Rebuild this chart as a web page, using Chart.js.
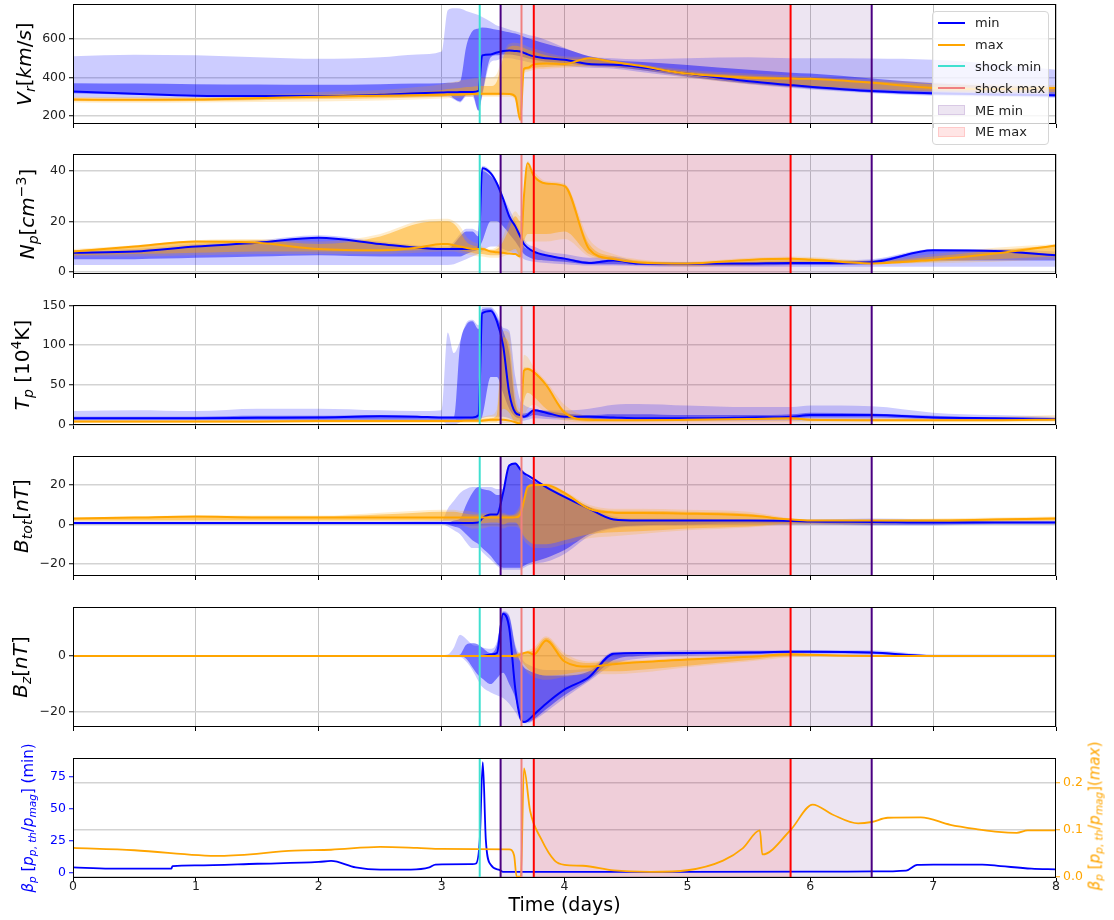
<!DOCTYPE html>
<html>
<head>
<meta charset="utf-8">
<title>Ensemble min / max run</title>
<script src="https://cdn.jsdelivr.net/npm/chart.js@4.4.0/dist/chart.umd.min.js"></script>
<style>
  html, body { margin: 0; padding: 0; background: #fff; }
  #fig { position: relative; width: 1114px; height: 920px; overflow: hidden; font-family: 'DejaVu Sans', sans-serif; }
  #fig canvas { position: absolute; left: 0; }
  .ylab { position: absolute; white-space: nowrap; transform: translate(-50%, -50%) rotate(-90deg); font-size: 20px; line-height: 1; color: #000; z-index: 2; }
  .ylab sub { font-size: 70%; vertical-align: -0.3em; line-height: 0; }
  .ylab sup { font-size: 70%; vertical-align: 0.55em; line-height: 0; }
  .ylab.small { font-size: 15px; }
  #legend { position: absolute; left: 932px; top: 11px; width: 117px; height: 134px; box-sizing: border-box;
            border: 1px solid #d6d6d6; border-radius: 4px; background: rgba(255,255,255,0.8);
            padding-left: 5px; font-size: 13px; color: #222; z-index: 3; }
  #legend .row { height: 21.8px; display: flex; align-items: center; }
  #legend .hl { display: inline-block; width: 27px; height: 2px; margin-right: 10px; }
  #legend .hp { display: inline-block; width: 27px; height: 10px; margin-right: 10px; box-sizing: border-box; border: 1px solid; }
</style>
</head>
<body>
<div id="fig">
  <div class="ylab" style="left:24px;top:64px"><i>V</i><sub><i>r</i></sub>[<i>km</i>/<i>s</i>]</div>
  <div class="ylab" style="left:27px;top:214px"><i>N</i><sub><i>p</i></sub>[<i>cm</i><sup>&minus;3</sup>]</div>
  <div class="ylab" style="left:22px;top:365px"><i>T</i><sub><i>p</i></sub> [10<sup>4</sup>K]</div>
  <div class="ylab" style="left:21px;top:516px"><i>B</i><sub><i>tot</i></sub>[<i>nT</i>]</div>
  <div class="ylab" style="left:20px;top:667px"><i>B</i><sub><i>z</i></sub>[<i>nT</i>]</div>
  <div class="ylab small" style="left:28px;top:818px;color:#0000ff"><i>β</i><sub><i>p</i></sub> [<i>p</i><sub><i>p</i>, <i>th</i></sub>/<i>p</i><sub><i>mag</i></sub>] (min)</div>
  <div class="ylab small" style="left:1095px;top:816px;color:#ffa500"><i>β</i><sub><i>p</i></sub> [<i>p</i><sub><i>p</i>, <i>th</i></sub>/<i>p</i><sub><i>mag</i></sub>](<i>max</i>)</div>

  <div id="legend">
    <div class="row"><span class="hl" style="background:#0000ff"></span>min</div>
    <div class="row"><span class="hl" style="background:#ffa500"></span>max</div>
    <div class="row"><span class="hl" style="background:#40e0d0"></span>shock min</div>
    <div class="row"><span class="hl" style="background:#f08080"></span>shock max</div>
    <div class="row"><span class="hp" style="background:rgba(75,0,130,0.1);border-color:rgba(75,0,130,0.12)"></span>ME min</div>
    <div class="row"><span class="hp" style="background:rgba(255,0,0,0.1);border-color:rgba(255,0,0,0.12)"></span>ME max</div>
  </div>
</div>

<script>
// ---- time grid (days) shared by the five upper panels ----
const days = [0, 0.5, 1, 1.5, 2, 2.5, 2.8,
  3.0, 3.05, 3.1, 3.15, 3.2, 3.25, 3.3, 3.33,
  3.4, 3.45, 3.5, 3.55, 3.6, 3.64, 3.67, 3.7, 3.75, 3.85,
  4.0, 4.2, 4.4, 4.6, 5.0, 5.5, 5.85, 6.0, 6.5, 7.0, 7.5, 8.0];
const dayTicks = [0, 1, 2, 3, 4, 5, 6, 7, 8];

// shock arrival and magnetic ejecta boundaries (days)
const shockMin = 3.31;
const shockMax = 3.65;
const meMinSpan = [3.48, 6.5];
const meMaxSpan = [3.75, 5.84];

// ---- Vr [km/s] ----
const vrMin = [327,315,305,303,303,310,318, 322,323,323,324,324,325,330,515, 520,530,538,540,538,535,528,520,510,500, 492,470,466,455,420,380,360,352,330,318,312,308];
const vrMax = [285,284,285,292,300,305,308, 310,311,311,312,313,314,315,315, 315,315,315,314,300,180,445,450,468,472, 470,500,480,462,420,398,394,393,372,345,340,345];
const vrMinOutHi = [510,518,515,505,497,505,520, 535,750,760,758,745,735,725,715, 690,670,660,650,640,632,628,622,615,595, 555,510,500,495,500,505,500,500,498,492,470,440];
const vrMinOutLo = [295,293,292,292,295,298,300, 300,300,285,270,300,300,225,300, 480,490,500,500,495,490,485,480,475,470, 460,450,445,430,400,365,345,338,318,305,300,295];
const vrMinInHi = [370,368,365,363,362,365,368, 370,372,374,380,560,640,655,660, 655,648,642,635,628,620,612,605,595,575, 550,510,490,482,465,440,425,420,395,370,355,345];
const vrMinInLo = [318,310,302,300,300,305,312, 315,316,290,275,310,315,228,310, 505,515,520,520,515,510,505,500,492,482, 475,460,455,440,405,368,350,342,322,310,305,300];
const vrMaxOutHi = [300,298,300,310,325,335,350, 365,372,378,385,390,395,398,400, 400,420,520,575,580,575,570,560,550,530, 510,505,490,470,440,420,410,405,390,375,365,360];
const vrMaxOutLo = [270,268,270,272,275,280,285, 290,292,293,295,298,300,300,300, 300,300,300,300,280,170,420,430,440,445, 450,455,450,440,400,365,350,345,330,320,315,315];
const vrMaxInHi = [292,290,292,300,310,318,325, 335,340,342,345,350,352,355,355, 355,380,500,560,565,560,555,545,535,515, 500,495,480,462,430,410,400,395,380,365,355,350];
const vrMaxInLo = [278,276,278,282,288,292,296, 300,302,303,304,306,308,308,308, 308,308,310,310,295,175,435,440,450,455, 458,462,458,448,410,375,360,355,340,330,325,325];

// ---- Np [cm^-3] ----
const npMin = [7.5,8,10,11.5,13.5,11,9.5, 9,9,9,9,9,9,9,41, 39,35,29,22,18,14,11,9.5,8,6.5, 5.2,3.5,4.5,3.3,3.2,3.3,3.5,3.5,3.8,8.5,8.2,6.5];
const npMax = [8,10,12,11.5,9,8.5,9.5, 11,11,10.5,10,9.5,9,9,9, 8,7.7,7.5,7.2,7,6,30,43,38,35, 34,9,5,3.7,3.3,4.7,5.1,4.8,3.3,4.8,7.2,10.4];
const npMinOutHi = [8.5,9,11,12.5,14.5,12,10.5, 10,10,12,15,17,17,16,42, 40,36,30,25,20,16,13,11,10,8, 7,5.5,6,4,3.5,4,4.5,4.5,5,9,9,8];
const npMinOutLo = [2.7,2.7,2.7,2.7,2.7,2.7,2.7, 2.7,2.7,3,4,5,6,7,8, 10,10,9,8,7,6,5,4.5,4,3.5, 3,2.5,2.5,2.2,2,2,2,2,2,2,2,2];
const npMinInHi = [7.5,8,10,11.5,13.5,11,9.5, 9,9,11,14,16,16,14,40, 38,35,28,22,18,14,10,9,8,6.5, 5.5,4,5,3.5,3,3.5,4,4,4.5,8.5,8.5,7];
const npMinInLo = [5,5,5.5,6,6.5,6,6, 6,6,6,6,7,8,9,12, 20,20,18,15,12,9,7,6,5,4.5, 4,3,3,2.7,2.5,2.5,2.7,2.7,3,4.5,4.5,4.5];
const npMaxOutHi = [9,10.5,12.5,13,12,15,20, 21,21,20,18,14,12,11,10, 9,10,14,20,24,22,30,44,40,36, 35,13,7,5,4,5.5,6,5.8,4.5,7,9.5,11];
const npMaxOutLo = [6,6,6.5,7,7,7,7.5, 8,8,8,7.5,7,6.5,6,6, 5.5,5.5,6,7,8,5,10,12,12,12, 13,6,4,3,2,2.5,3,3,3,3.5,4,5];
const npMaxInHi = [8.5,10,12,12.5,11,14,19, 20,20,19,16,12,10.5,10,9.5, 8.5,9,12,17,22,20,28,42,38,35, 34,11,6,4.5,3.5,5,5.5,5.3,4,6,8.5,10.5];
const npMaxInLo = [6.5,7,7.5,8,8,8,8.5, 9,9,9,8.5,8,7.5,7,7, 6.5,6.5,7,8,9,6,12,15,15,15, 16,7,4.5,3.3,2.5,3,3.5,3.5,3.2,4,5,6];

// ---- Tp [10^4 K] ----
const tpMin = [8,8,8,8.5,9,10.5,10, 9,9,9,9,9,9,12,140, 143,130,100,40,15,12,10,12,18,15, 10,10,9,8,8,9,10,12,12,9,8,7];
const tpMax = [4,4,4,4,4.5,4.5,4.5, 4.5,4.5,4.5,4.5,5,5,5,5, 6,6,6,5,3,1,68,70,66,50, 15,6,5.5,5.5,6,7,8,6,5.5,5.5,5.5,6.5];
const tpMinOutHi = [17,18,17,20,20,18,17, 18,116,90,105,128,132,125,148, 148,140,122,118,60,30,25,22,20,18, 18,20,25,26,24,22,22,24,23,15,12,10];
const tpMinOutLo = [5,5,5,5,5,5,5, 5,0,0,3,5,5,5,8, 10,10,10,8,5,5,5,6,8,7, 6,6,5,5,5,5,5,5,5,5,5,5];
const tpMinInHi = [10,10,10,11,11,12,11, 10,10,10,100,125,130,120,145, 146,135,118,90,25,15,14,15,19,17, 14,12,13,13,12,12,13,15,14,11,9,8];
const tpMinInLo = [6,6,6,6,6,6,6, 6,6,6,5,5,5,5,10, 60,60,40,20,10,8,8,9,12,10, 8,7,7,7,7,7,8,9,9,7,6,6];
const tpMaxOutHi = [6,6,6,6,7,7,7, 7,7,7,7,8,8,8,10, 12,20,118,115,40,20,88,85,72,55, 25,10,8,8,9,10,10,8,8,9,10,12];
const tpMaxOutLo = [2,2,2,2,2,2,2, 2,2,2,2,2,2,2,2, 2,2,2,2,1,0,10,20,25,15, 5,3,3,3,3,3,3,3,3,3,3,3];
const tpMaxInHi = [5,5,5,5,5.5,5.5,5.5, 5.5,5.5,5.5,5.5,6,6,6,7, 8,12,110,100,30,15,72,72,68,50, 18,8,6.5,6.5,7,8,9,7,6.5,6.5,6.5,8];
const tpMaxInLo = [3,3,3,3,3.5,3.5,3.5, 3.5,3.5,3.5,3.5,4,4,4,4, 4,4,20,15,2,0.5,30,40,35,20, 8,4,4.5,4.5,5,6,6,5,4.5,4.5,4.5,5];

// ---- Btot [nT] ----
const btMin = [0.8,0.8,0.8,0.8,0.8,0.8,0.8, 0.8,0.8,0.8,0.8,0.8,0.8,1,3, 5,5,16,30,31,28,26,25,23,19, 14,8,2.5,2,2,2,1.8,1.5,1.3,1,1,1];
const btMax = [3,3.5,4,3.5,3.5,3.5,3.5, 3.5,3.5,3.5,3.5,3.5,3.5,3.5,3.5, 3.5,3.5,3.5,3.5,3.6,5,12,19,20,20, 16,8,6,5.8,5.5,4.5,2.5,2,2,2,2.5,3];
const btMinOutHi = [1.5,1.5,1.5,1.5,1.5,1.5,1.8, 2,8,12,16,18,19,19,19, 19,18,18,30,31.5,29,27,25,23,20, 15,9,4,3,3,2.5,2.5,2.5,3,2.5,2,2];
const btMinOutLo = [0,0,0,0,0,0,0, 0,-1,-3,-5,-9,-12,-12,-14, -18,-21,-23,-23,-23,-23,-22,-21,-20,-19, -15,-6,-2,-1,-0.5,0,0,0,-0.5,-0.5,0,0];
const btMinInHi = [1,1,1,1,1,1,1, 1,1,2,3,10,16,19,18, 17,15,16,30,31,28,26,24,22,19, 14,8,3,2.5,2.5,2,2,2,2,2,1.5,1.5];
const btMinInLo = [0.5,0.5,0.5,0.5,0.5,0.5,0.5, 0.5,0,-1,-2,-5,-8,-10,-12, -16,-20,-22,-22,-22,-22,-21,-20,-19,-17, -13,-5,-1.5,-0.5,0,0.5,0.5,0.5,0,0,0.5,0.5];
const btMaxOutHi = [3.5,4,4.5,4.5,4.5,6,7, 7.5,7.5,7.5,7,7,6.5,6,6, 6,6,6,5,6,10,15,20,21,21, 17,10,8,8,7.5,6.5,3,2.5,2.5,3,3.5,4];
const btMaxOutLo = [1.5,1.5,1.5,1.5,1.5,1.5,1.5, 1.5,1.5,1,0,-1,-2,-2,-2, -1,-1,-2,-1,-1,-3,-8,-10,-12,-12, -10,-7,-6,-5,-3,-1.5,0,0,0,0.5,1,1.5];
const btMaxInHi = [3.2,3.7,4.2,4,4,5,6, 6.5,6.5,6.5,6,5.5,5,5,5, 5,5,5,4.5,5,8,13,19,20,20, 16,9,7,7,6.5,5.5,2.5,2.2,2.2,2.5,3,3.5];
const btMaxInLo = [2,2,2,2,2,2,2, 2,2,2,1.5,1,0.5,0.5,0.5, 1,1,0,1,1,-2,-6,-8,-10,-10, -8,-5,-4,-3.5,-2,-1,0.5,0.5,0.5,1,1.5,2];

// ---- Bz [nT] ----
const bzMin = [0,0,0,0,0,0,0, 0,0,0,0,0,0,0,0, 0.5,1,15,10,-12,-22,-23.5,-23,-21,-17, -12,-7.5,0.8,1,1,1.2,1.5,1.5,1.2,0,0,0];
const bzMax = [0,0,0,0,0,0,0, 0,0,0,0,0,0,0,0, 0,0,0,0,0,0.5,1,1.3,0.5,5.5, -2,-3.8,-3,-2.3,-1.3,-0.3,0.6,0.4,0,0,0,0];
const bzMinOutHi = [0.3,0.3,0.3,0.3,0.3,0.3,0.3, 0.3,0.5,3,7.5,6,4,3.5,3, 2.5,5,16,14.5,4,0,-2,-3,-4,-5, -5,-4.5,1.5,1.5,2,2,2,2,2,0.5,0.5,0.5];
const bzMinOutLo = [-0.3,-0.3,-0.3,-0.3,-0.3,-0.3,-0.3, -0.3,-0.5,-0.5,-0.5,-2,-5,-9,-11, -13,-14,-15,-17,-20,-23,-24,-24,-23,-20, -15,-9,-3,-1,0,0.3,0.5,0.5,0.3,-0.5,-0.5,-0.5];
const bzMinInHi = [0.1,0.1,0.1,0.1,0.1,0.1,0.1, 0.1,0.1,0.1,0.5,4,4.5,4,3, 1,4,15.5,14,3,-2,-4,-5,-6,-7, -7,-5.5,0.8,1.2,1.3,1.6,1.8,1.8,1.5,0.2,0.2,0.2];
const bzMinInLo = [-0.1,-0.1,-0.1,-0.1,-0.1,-0.1,-0.1, -0.1,-0.1,-0.1,-0.1,-1,-4,-7,-8, -10,-8,-6,-10,-15,-22,-23.5,-23.5,-22.5,-19, -14,-8.5,-1.5,0,0.5,0.8,1,1,0.8,-0.2,-0.2,-0.2];
const bzMaxOutHi = [0.3,0.3,0.3,0.3,0.3,0.3,0.3, 0.3,0.3,0.3,0.3,0.3,0.3,0.3,0.3, 0.3,0.3,0.4,0.5,1,1.5,1.5,2,3,7, 1,-2,-1.5,-1.5,-0.5,0.3,1,0.8,0.3,0.3,0.3,0.3];
const bzMaxOutLo = [-0.3,-0.3,-0.3,-0.3,-0.3,-0.3,-0.3, -0.3,-0.3,-0.3,-0.3,-0.3,-0.3,-0.3,-0.3, -0.3,-0.3,-0.4,-0.5,-1,-2,-4,-6,-7.5,-8.5, -7.5,-6.5,-6.5,-6,-4,-2,-0.5,-0.3,-0.3,-0.3,-0.3,-0.3];
const bzMaxInHi = [0.15,0.15,0.15,0.15,0.15,0.15,0.15, 0.15,0.15,0.15,0.15,0.15,0.15,0.15,0.15, 0.15,0.15,0.2,0.3,0.6,1,1.3,1.5,2,6.5, 0,-2.5,-2,-2,-1,0,0.8,0.6,0.15,0.15,0.15,0.15];
const bzMaxInLo = [-0.15,-0.15,-0.15,-0.15,-0.15,-0.15,-0.15, -0.15,-0.15,-0.15,-0.15,-0.15,-0.15,-0.15,-0.15, -0.15,-0.15,-0.2,-0.3,-0.6,-1,-3,-4.5,-6,-7, -6.5,-5.5,-5.5,-5,-3.5,-1.5,0,-0.15,-0.15,-0.15,-0.15,-0.15];

// ---- plasma beta (min run on left axis, max run on right axis) ----
const betaMinDays = [0,0.3,0.8,0.81,1.0,1.5,2.0,2.1,2.3,2.5, 2.75,2.9,2.95,3.25,3.28,3.31,3.335,3.36,3.4,3.47, 3.5,4.0,5.0,6.0,6.5,6.78,6.87,7.0,7.4,7.55, 7.8,8.0];
const betaMin = [4,3,3,5,5.5,6.8,8.2,9,4,2.3, 2.3,4,6.2,6.5,7,25,86,25,6,2, 0.5,0.5,0.5,0.6,0.8,1.5,6,6.2,6.2,5, 3,2.5];
const betaMaxDays = [0,0.5,1.2,1.8,2.1,2.5,2.8,3.0,3.55,3.59, 3.61,3.645,3.67,3.72,3.81,3.92,4.0,4.15,4.4,4.7, 5.0,5.29,5.45,5.59,5.61,5.84,6.02,6.18,6.39,6.5, 6.63,6.9,7.14,7.38,7.53,7.68,7.77,8.0];
const betaMax = [0.061,0.056,0.044,0.055,0.057,0.063,0.061,0.059,0.058,0.045, 0,0,0.23,0.14,0.08,0.034,0.025,0.023,0.013,0.010, 0.0135,0.034,0.06,0.098,0.047,0.099,0.153,0.132,0.113,0.116, 0.125,0.126,0.11,0.1,0.095,0.093,0.098,0.098];

// axis ranges and tick values
const vrRange = [158, 782], vrTicks = [200, 400, 600];
const npRange = [-0.9, 46.7], npTicks = [0, 20, 40];
const tpRange = [-0.5, 150.5], tpTicks = [0, 50, 100, 150];
const btRange = [-26.2, 34.8], btTicks = [-20, 0, 20];
const bzRange = [-25.3, 17.4], bzTicks = [-20, 0];
const betaMinRange = [-4.3, 89.3], betaMinTicks = [0, 25, 50, 75];
const betaMaxRange = [-0.003, 0.252], betaMaxTicks = [0, 0.1, 0.2];

// ---- layout / styles ----
const FIG_W = 1114, PLOT_LEFT = 73, PLOT_RIGHT = 1056;
const PANEL_TOPS = [4, 154, 305, 456, 607, 758];
const PANEL_H = 120;
const BLUE = '#0000ff', ORANGE = '#ffa500';

Chart.defaults.font.family = "'DejaVu Sans', sans-serif";
Chart.defaults.font.size = 12.5;

const eventLines = [
  {t: shockMin, color: '#40e0d0'},
  {t: meMinSpan[0], color: '#4b0082'},
  {t: shockMax, color: '#f08080'},
  {t: meMaxSpan[0], color: '#ff0000'},
  {t: meMaxSpan[1], color: '#ff0000'},
  {t: meMinSpan[1], color: '#4b0082'}
];
const eventSpans = [
  {span: meMinSpan, color: 'rgba(75,0,130,0.1)'},
  {span: meMaxSpan, color: 'rgba(255,0,0,0.1)'}
];

const eventsPlugin = {
  id: 'events',
  beforeDatasetsDraw(chart) {
    const {ctx, chartArea: a, scales: {x}} = chart;
    ctx.save();
    eventSpans.forEach(s => {
      const x0 = x.getPixelForValue(s.span[0]);
      const x1 = x.getPixelForValue(s.span[1]);
      ctx.fillStyle = s.color;
      ctx.fillRect(x0, a.top, x1 - x0, a.bottom - a.top);
    });
    ctx.restore();
  },
  afterDatasetsDraw(chart) {
    const {ctx, chartArea: a, scales: {x}} = chart;
    ctx.save();
    ctx.lineWidth = 2;
    eventLines.forEach(ev => {
      const px = x.getPixelForValue(ev.t);
      ctx.strokeStyle = ev.color;
      ctx.beginPath();
      ctx.moveTo(px, a.top);
      ctx.lineTo(px, a.bottom);
      ctx.stroke();
    });
    // axes frame
    ctx.strokeStyle = '#000';
    ctx.lineWidth = 1;
    ctx.strokeRect(Math.round(a.left) + 0.5, Math.round(a.top) + 0.5,
                   Math.round(a.right - a.left) - 1, Math.round(a.bottom - a.top) - 1);
    ctx.restore();
  }
};

function pts(xs, ys) {
  return xs.map((x, i) => ({x: x, y: ys[i]}));
}

function lineSet(xs, ys, color, width, order) {
  return {data: pts(xs, ys), borderColor: color, borderWidth: width, pointRadius: 0,
          fill: false, order: order, cubicInterpolationMode: 'monotone'};
}

// two datasets, the second one filled down to the first
function bandSets(xs, lo, hi, color, order) {
  return [
    {data: pts(xs, lo), borderWidth: 0, borderColor: 'rgba(0,0,0,0)', pointRadius: 0,
     fill: false, order: order, cubicInterpolationMode: 'monotone'},
    {data: pts(xs, hi), borderWidth: 0, borderColor: 'rgba(0,0,0,0)', pointRadius: 0,
     fill: '-1', backgroundColor: color, order: order, cubicInterpolationMode: 'monotone'}
  ];
}

function fmtNum(v) {
  return v < 0 ? '\u2212' + Math.abs(v) : String(v);
}

function yAxis(range, ticks, opt) {
  opt = opt || {};
  const right = opt.position === 'right';
  return {
    type: 'linear',
    position: right ? 'right' : 'left',
    min: range[0], max: range[1],
    afterFit: s => { s.width = right ? FIG_W - PLOT_RIGHT : PLOT_LEFT; },
    afterBuildTicks: s => { s.ticks = ticks.map(v => ({value: v})); },
    ticks: {color: opt.color || '#222', padding: 3, autoSkip: false, callback: opt.fmt || fmtNum},
    grid: {drawOnChartArea: opt.grid !== false, color: '#d3d3d3', lineWidth: 1.5,
           drawTicks: true, tickLength: 4, tickColor: opt.tickColor || '#000', tickWidth: 1},
    border: {display: false}
  };
}

function makePanel(idx, datasets, yScales) {
  const last = idx === 5;
  const padTop = 12, xh = last ? 42 : 12;
  const h = padTop + PANEL_H + xh;
  const cv = document.createElement('canvas');
  cv.width = FIG_W; cv.height = h;
  cv.style.width = FIG_W + 'px';
  cv.style.height = h + 'px';
  cv.style.top = (PANEL_TOPS[idx] - padTop) + 'px';
  document.getElementById('fig').appendChild(cv);

  const scales = Object.assign({
    x: {
      type: 'linear', min: 0, max: 8,
      afterFit: s => { s.height = xh; },
      afterBuildTicks: s => { s.ticks = dayTicks.map(v => ({value: v})); },
      ticks: {display: last, color: '#222', padding: -3, maxRotation: 0, autoSkip: false},
      grid: {drawOnChartArea: !last, color: '#c4c4c4', lineWidth: 1,
             drawTicks: true, tickLength: 4, tickColor: '#000', tickWidth: 1},
      border: {display: false},
      title: {display: last, text: 'Time (days)', color: '#000', font: {size: 19}, padding: {top: 0, bottom: 3}}
    }
  }, yScales);

  new Chart(cv, {
    type: 'line',
    data: {datasets: datasets},
    options: {
      responsive: false,
      animation: false,
      devicePixelRatio: 1,
      events: [],
      layout: {padding: {top: padTop, left: 0, right: last ? 0 : FIG_W - PLOT_RIGHT, bottom: 0}},
      plugins: {legend: {display: false}, tooltip: {enabled: false}},
      scales: scales
    },
    plugins: [eventsPlugin]
  });
}

// the five ensemble panels: outer/inner spread of the min and max runs, plus their lines
function ensembleSets(s) {
  return [
    ...bandSets(days, s.minOutLo, s.minOutHi, 'rgba(0,0,255,0.2)', 8),
    ...bandSets(days, s.minInLo, s.minInHi, 'rgba(0,0,255,0.45)', 7),
    ...bandSets(days, s.maxOutLo, s.maxOutHi, 'rgba(255,165,0,0.2)', 6),
    ...bandSets(days, s.maxInLo, s.maxInHi, 'rgba(255,165,0,0.45)', 5),
    lineSet(days, s.min, BLUE, 2, 2),
    lineSet(days, s.max, ORANGE, 2, 1)
  ];
}

makePanel(0, ensembleSets({min: vrMin, max: vrMax,
  minOutLo: vrMinOutLo, minOutHi: vrMinOutHi, minInLo: vrMinInLo, minInHi: vrMinInHi,
  maxOutLo: vrMaxOutLo, maxOutHi: vrMaxOutHi, maxInLo: vrMaxInLo, maxInHi: vrMaxInHi}),
  {y: yAxis(vrRange, vrTicks)});

makePanel(1, ensembleSets({min: npMin, max: npMax,
  minOutLo: npMinOutLo, minOutHi: npMinOutHi, minInLo: npMinInLo, minInHi: npMinInHi,
  maxOutLo: npMaxOutLo, maxOutHi: npMaxOutHi, maxInLo: npMaxInLo, maxInHi: npMaxInHi}),
  {y: yAxis(npRange, npTicks)});

makePanel(2, ensembleSets({min: tpMin, max: tpMax,
  minOutLo: tpMinOutLo, minOutHi: tpMinOutHi, minInLo: tpMinInLo, minInHi: tpMinInHi,
  maxOutLo: tpMaxOutLo, maxOutHi: tpMaxOutHi, maxInLo: tpMaxInLo, maxInHi: tpMaxInHi}),
  {y: yAxis(tpRange, tpTicks)});

makePanel(3, ensembleSets({min: btMin, max: btMax,
  minOutLo: btMinOutLo, minOutHi: btMinOutHi, minInLo: btMinInLo, minInHi: btMinInHi,
  maxOutLo: btMaxOutLo, maxOutHi: btMaxOutHi, maxInLo: btMaxInLo, maxInHi: btMaxInHi}),
  {y: yAxis(btRange, btTicks)});

makePanel(4, ensembleSets({min: bzMin, max: bzMax,
  minOutLo: bzMinOutLo, minOutHi: bzMinOutHi, minInLo: bzMinInLo, minInHi: bzMinInHi,
  maxOutLo: bzMaxOutLo, maxOutHi: bzMaxOutHi, maxInLo: bzMaxInLo, maxInHi: bzMaxInHi}),
  {y: yAxis(bzRange, bzTicks)});

// beta panel: two y axes
const betaMinSet = lineSet(betaMinDays, betaMin, BLUE, 1.8, 2);
betaMinSet.yAxisID = 'y';
const betaMaxSet = lineSet(betaMaxDays, betaMax, ORANGE, 1.8, 1);
betaMaxSet.yAxisID = 'y2';
makePanel(5, [betaMinSet, betaMaxSet], {
  y: yAxis(betaMinRange, betaMinTicks, {color: BLUE, tickColor: BLUE, grid: false}),
  y2: yAxis(betaMaxRange, betaMaxTicks, {position: 'right', color: ORANGE, tickColor: ORANGE,
                                         fmt: v => v.toFixed(1)})
});
</script>
</body>
</html>
